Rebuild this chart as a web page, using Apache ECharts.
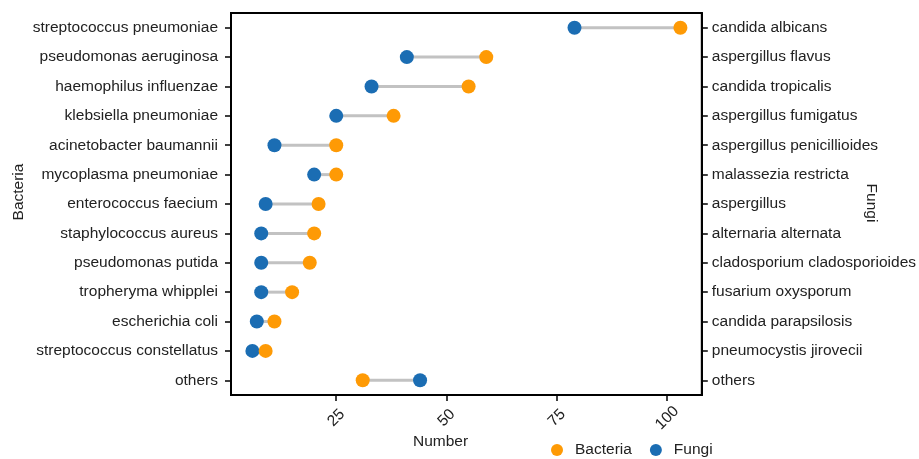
<!DOCTYPE html>
<html>
<head>
<meta charset="utf-8">
<script src="https://cdn.jsdelivr.net/npm/echarts@6/dist/echarts.min.js"></script>
<style>html,body{margin:0;padding:0;background:#fff}#c{width:919px;height:459px}</style>
</head>
<body>
<div id="c"></div>
<script>
const bacteriaNames = ['streptococcus pneumoniae','pseudomonas aeruginosa','haemophilus influenzae','klebsiella pneumoniae','acinetobacter baumannii','mycoplasma pneumoniae','enterococcus faecium','staphylococcus aureus','pseudomonas putida','tropheryma whipplei','escherichia coli','streptococcus constellatus','others'];
const fungiNames = ['candida albicans','aspergillus flavus','candida tropicalis','aspergillus fumigatus','aspergillus penicillioides','malassezia restricta','aspergillus','alternaria alternata','cladosporium cladosporioides','fusarium oxysporum','candida parapsilosis','pneumocystis jirovecii','others'];
const bacteriaCounts = [103,59,55,38,25,25,21,20,19,15,11,9,31];
const fungiCounts = [79,41,33,25,11,20,9,8,8,8,7,6,44];
const xTicks = [25,50,75,100];

const FONT = "'Liberation Sans', Arial, sans-serif";
const FS = 15.5;
const ORANGE = '#fe9a05';
const BLUE = '#1b6db3';

const chart = echarts.init(document.getElementById('c'), null, {renderer:'canvas'});
const segData = bacteriaNames.map((n,i)=>[bacteriaCounts[i], fungiCounts[i], i]);
const bData = bacteriaNames.map((n,i)=>[bacteriaCounts[i], i]);
const fData = fungiNames.map((n,i)=>[fungiCounts[i], i]);

chart.setOption({
  animation:false,
  textStyle:{fontFamily:FONT},
  grid:{left:231, right:217, top:13, bottom:64, show:true, borderColor:'#000', borderWidth:2, containLabel:false},
  xAxis:{type:'value', min:1.15, max:107.85,
    axisLine:{show:true, lineStyle:{color:'#000', width:2}},
    axisTick:{show:true, length:6, lineStyle:{color:'#000', width:1.5}, customValues:xTicks},
    axisLabel:{customValues:xTicks, rotate:45, align:'center', verticalAlign:'middle', margin:23, color:'#222', fontSize:FS, fontFamily:FONT},
    splitLine:{show:false}},
  yAxis:[
    {type:'category', data:bacteriaNames, inverse:true, position:'left',
     axisLine:{show:true, lineStyle:{color:'#000', width:2}},
     axisTick:{show:true, alignWithLabel:true, length:6, lineStyle:{color:'#000', width:1.5}},
     axisLabel:{margin:13, color:'#222', fontSize:FS, fontFamily:FONT}},
    {type:'category', data:fungiNames, inverse:true, position:'right',
     axisLine:{show:true, lineStyle:{color:'#000', width:2}},
     axisTick:{show:true, alignWithLabel:true, length:6, lineStyle:{color:'#000', width:1.5}},
     axisLabel:{margin:10, color:'#222', fontSize:FS, fontFamily:FONT}}
  ],
  legend:{data:['Bacteria','Fungi'], left:551, top:442, padding:0, itemWidth:12, itemHeight:12, itemGap:18, icon:'circle',
    textStyle:{fontSize:FS, color:'#222', fontFamily:FONT, padding:[0,0,0,7]}},
  graphic:[
    {type:'text', left:413, top:434, style:{text:'Number', fill:'#222', font:FS+"px 'Liberation Sans', Arial"}},
    {type:'text', x:19, y:192, rotation:Math.PI/2, style:{text:'Bacteria', fill:'#222', font:FS+"px 'Liberation Sans', Arial", align:'center', verticalAlign:'middle'}},
    {type:'text', x:871, y:203, rotation:-Math.PI/2, style:{text:'Fungi', fill:'#222', font:FS+"px 'Liberation Sans', Arial", align:'center', verticalAlign:'middle'}}
  ],
  series:[
    {type:'custom', name:'seg', yAxisIndex:0, data:segData, encode:{x:[0,1], y:2}, silent:true, z:1,
     renderItem:function(params, api){
       const a = api.coord([api.value(0), api.value(2)]);
       const b = api.coord([api.value(1), api.value(2)]);
       return {type:'line', shape:{x1:a[0], y1:a[1], x2:b[0], y2:b[1]}, style:{stroke:'#c2c2c2', lineWidth:3}};
     }},
    {type:'scatter', name:'Fungi', yAxisIndex:0, data:fData, symbol:'circle', symbolSize:14, itemStyle:{color:BLUE, opacity:1}, z:3},
    {type:'scatter', name:'Bacteria', yAxisIndex:0, data:bData, symbol:'circle', symbolSize:14, itemStyle:{color:ORANGE, opacity:1}, z:4}
  ]
});
</script>
</body>
</html>
